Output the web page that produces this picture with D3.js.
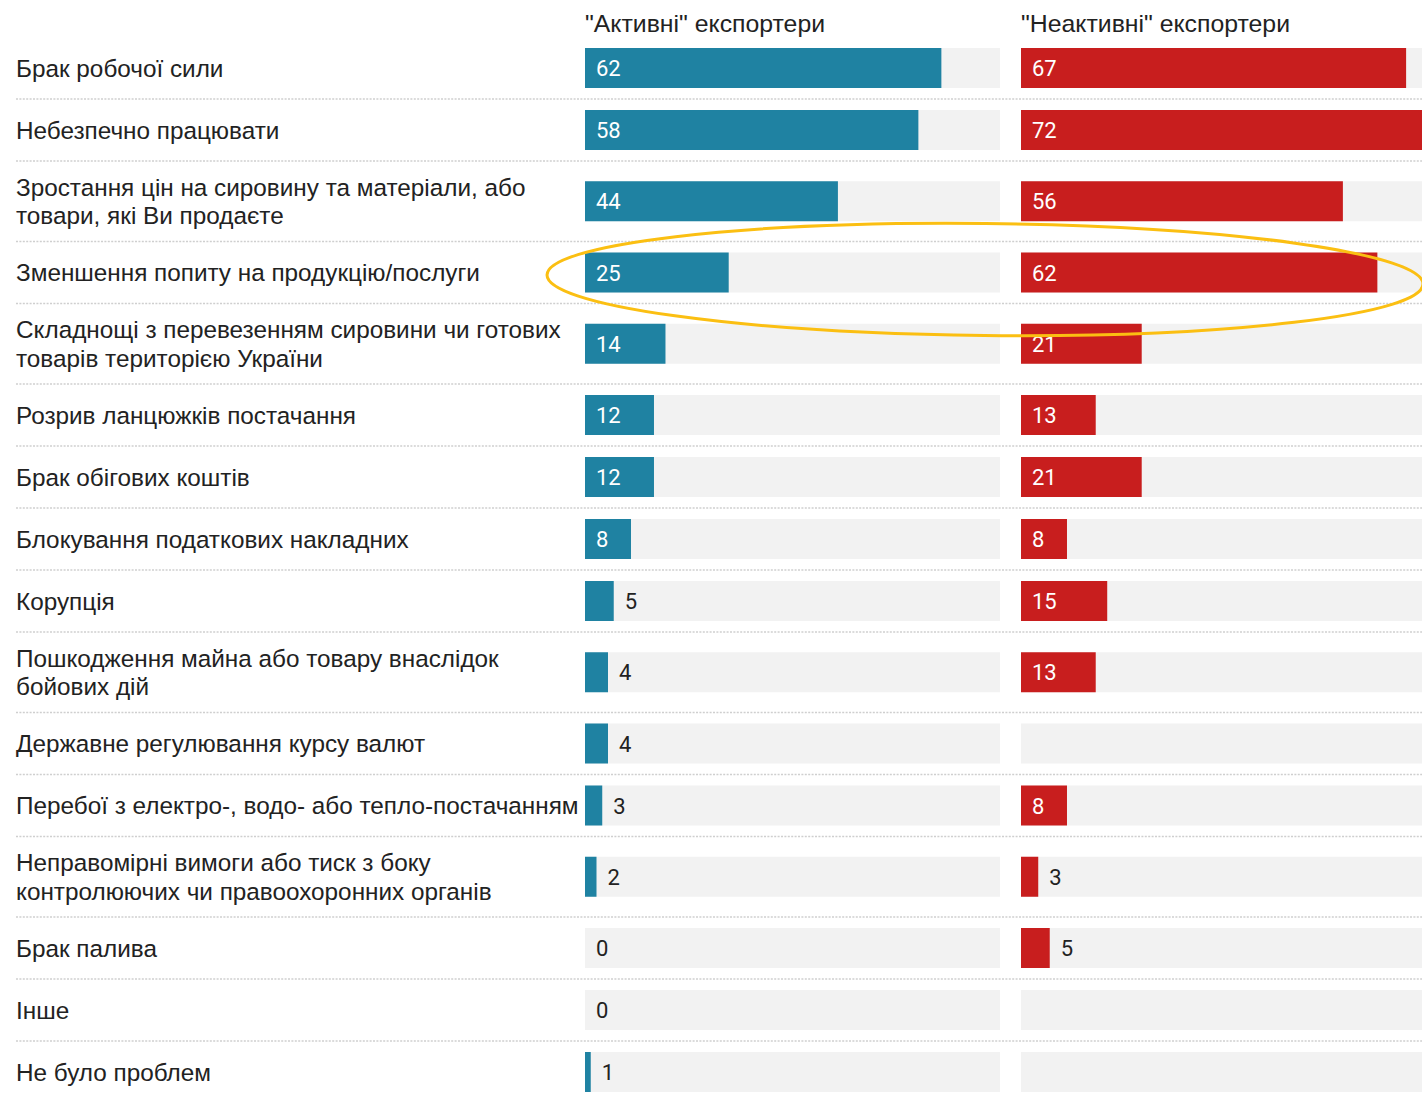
<!DOCTYPE html>
<html>
<head>
<meta charset="utf-8">
<script src="https://cdn.jsdelivr.net/npm/d3@7"></script>
<style>
  body { margin: 0; background: #fff; }
  svg { display: block; }
  .label { font-family: "Liberation Sans", Arial, sans-serif; font-size: 24.3px; fill: #222; }
  .head { font-family: "Liberation Sans", Arial, sans-serif; font-size: 24.8px; fill: #222; }
  .val { font-family: Roboto, sans-serif; font-size: 22px; }
</style>
</head>
<body>
<div id="chart"></div>
<script>
var categories = [
  "Брак робочої сили",
  "Небезпечно працювати",
  "Зростання цін на сировину та матеріали, або\nтовари, які Ви продаєте",
  "Зменшення попиту на продукцію/послуги",
  "Складнощі з перевезенням сировини чи готових\nтоварів територією України",
  "Розрив ланцюжків постачання",
  "Брак обігових коштів",
  "Блокування податкових накладних",
  "Корупція",
  "Пошкодження майна або товару внаслідок\nбойових дій",
  "Державне регулювання курсу валют",
  "Перебої з електро-, водо- або тепло-постачанням",
  "Неправомірні вимоги або тиск з боку\nконтролюючих чи правоохоронних органів",
  "Брак палива",
  "Інше",
  "Не було проблем"
];
var activeValues   = [62, 58, 44, 25, 14, 12, 12, 8, 5, 4, 4, 3, 2, 0, 0, 1];
var inactiveValues = [67, 72, 56, 62, 21, 13, 21, 8, 15, 13, null, 8, 3, 5, null, null];
var seriesNames = ["\"Активні\" експортери", "\"Неактивні\" експортери"];
var highlighted = "Зменшення попиту на продукцію/послуги";

var width = 1422, height = 1094;

var svg = d3.select("#chart")
  .append("svg")
    .attr("width", width)
    .attr("height", height);

// row heights depend on how many lines the label has
var rows = [];
var y0 = 37;
categories.forEach(function(c, i) {
  var lines = c.split("\n");
  var h = lines.length > 1 ? 80.5 : 62;
  rows.push({name: c, lines: lines, top: y0, h: h, mid: y0 + h / 2,
             values: [activeValues[i], inactiveValues[i]]});
  y0 += h;
});

var maxV = 72.2;
var x = d3.scaleLinear().domain([0, maxV]).range([0, 415]);
var colX = [585, 1021];
var colors = ["#1f82a2", "#c81e1e"];
var barH = 40;

// headers
svg.selectAll(".head")
  .data(seriesNames)
  .enter()
  .append("text")
    .attr("class", "head")
    .attr("x", function(d, i) { return colX[i]; })
    .attr("y", 32)
    .text(function(d) { return d; });

var row = svg.selectAll(".row")
  .data(rows)
  .enter()
  .append("g")
    .attr("class", "row")
    .attr("transform", function(d) { return "translate(0," + d.mid + ")"; });

// dotted separators below each row except the last
row.filter(function(d, i) { return i < rows.length - 1; })
  .append("line")
    .attr("x1", 16)
    .attr("x2", width)
    .attr("y1", function(d) { return d.h / 2; })
    .attr("y2", function(d) { return d.h / 2; })
    .attr("stroke", "#cfcfcf")
    .attr("stroke-width", 1.5)
    .attr("stroke-dasharray", "2,1.4");

// category labels
row.append("text")
  .attr("class", "label")
  .each(function(d) {
    var t = d3.select(this);
    var n = d.lines.length;
    d.lines.forEach(function(l, k) {
      t.append("tspan")
        .attr("x", 16)
        .attr("y", (k - (n - 1) / 2) * 28.5 + 8.5)
        .text(l);
    });
  });

// bars for both series
[0, 1].forEach(function(s) {
  var g = row.append("g")
    .attr("transform", "translate(" + colX[s] + ",0)");

  g.append("rect")
    .attr("x", 0)
    .attr("y", -barH / 2)
    .attr("width", x(maxV))
    .attr("height", barH)
    .attr("fill", "#f2f2f2");

  g.filter(function(d) { return d.values[s] != null && d.values[s] > 0; })
    .append("rect")
      .attr("x", 0)
      .attr("y", -barH / 2)
      .attr("width", function(d) { return x(d.values[s]); })
      .attr("height", barH)
      .attr("fill", colors[s]);

  g.filter(function(d) { return d.values[s] != null; })
    .append("text")
      .attr("class", "val")
      .attr("x", function(d) {
        var v = d.values[s];
        return v >= 8 ? 11 : x(v) + 11;
      })
      .attr("y", 8)
      .attr("fill", function(d) { return d.values[s] >= 8 ? "#fff" : "#222"; })
      .text(function(d) { return d.values[s]; });
});

// yellow ring around the highlighted row
var hl = rows.filter(function(d) { return d.name == highlighted; })[0];
svg.append("ellipse")
  .attr("cx", 985)
  .attr("cy", hl.mid + 7)
  .attr("rx", 438)
  .attr("ry", 56)
  .attr("transform", "rotate(0.6," + 985 + "," + (hl.mid + 7) + ")")
  .attr("fill", "none")
  .attr("stroke", "#fbbf12")
  .attr("stroke-width", 3);
</script>
</body>
</html>
